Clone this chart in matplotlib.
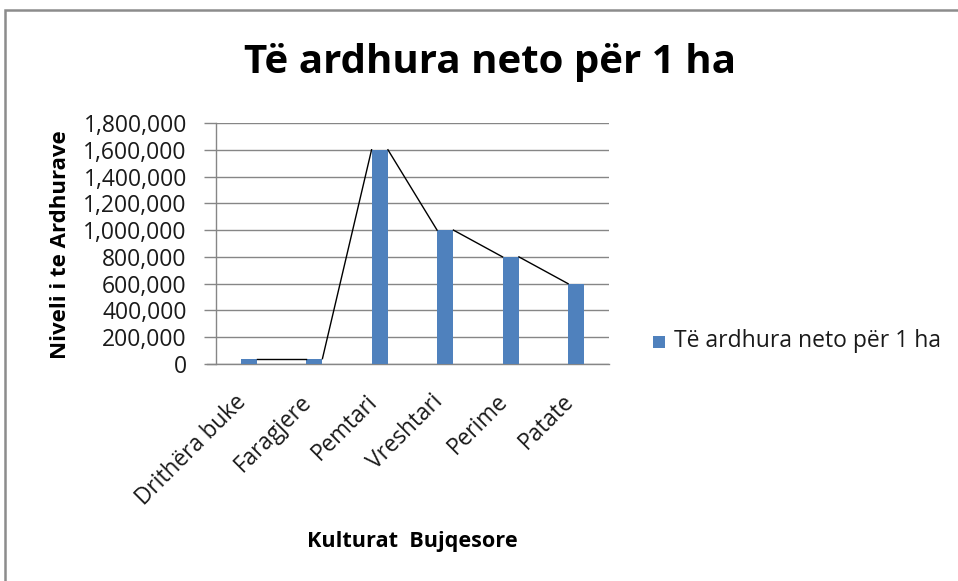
import matplotlib
matplotlib.use("Agg")
import matplotlib.pyplot as plt
from matplotlib.patches import Rectangle
from matplotlib.ticker import FuncFormatter
from matplotlib.transforms import ScaledTranslation, blended_transform_factory

categories = ["Drithëra buke", "Faragjere", "Pemtari", "Vreshtari", "Perime", "Patate"]
values = [40000, 40000, 1600000, 1000000, 800000, 600000]
series_name = "Të ardhura neto për 1 ha"
title = "Të ardhura neto për 1 ha"
y_label = "Niveli i te Ardhurave"
x_label = "Kulturat  Bujqesore"
y_ticks = [0, 200000, 400000, 600000, 800000, 1000000, 1200000, 1400000, 1600000, 1800000]

FONT = "Open Sans"
plt.rcParams["font.family"] = [FONT, "DejaVu Sans"]

W, H = 958, 581
fig = plt.figure(figsize=(W / 100, H / 100), dpi=100)
fig.patch.set_facecolor("white")

# chart border
fig.add_artist(Rectangle((5 / W, -0.1), 1.2, 1 - 10 / H + 0.1, transform=fig.transFigure,
                         fill=False, edgecolor="#8c8c8c", linewidth=1.8))

left, right = 216 / W, 609 / W
bottom, top = 1 - 364 / H, 1 - 123 / H
ax = fig.add_axes([left, bottom, right - left, top - bottom])

bar_w = 0.25
x = list(range(len(categories)))
ax.bar(x, values, width=bar_w, color="#4f81bd", zorder=3)

# series lines connecting bar tops
for i in range(len(values) - 1):
    ax.plot([x[i] + bar_w / 2, x[i + 1] - bar_w / 2], [values[i], values[i + 1]],
            color="black", linewidth=1.0, zorder=4)

ax.set_xlim(-0.5, len(categories) - 0.5)
ax.set_ylim(0, 1800000)
ax.set_yticks(y_ticks)
ax.yaxis.set_major_formatter(FuncFormatter(lambda v, p: f"{int(v):,}"))
ax.set_xticks(x)
ax.set_xticklabels([])
ax.tick_params(axis="x", length=0)
ax.tick_params(axis="y", length=9, color="#868686", width=1.0, labelsize=16.5,
               labelcolor="#1a1a1a", pad=12)

# rotated category labels
lbl_tr = blended_transform_factory(ax.transData, ax.transAxes) + \
    ScaledTranslation(2.5 / 100, -26 / 100, fig.dpi_scale_trans)
for xi, name in zip(x, categories):
    ax.text(xi, 0, name, transform=lbl_tr, rotation=45, ha="right", va="top",
            fontsize=16.3, color="#1a1a1a")

ax.grid(axis="y", color="#868686", linewidth=1.0, zorder=0)
for s in ["top", "right"]:
    ax.spines[s].set_visible(False)
for s in ["left", "bottom"]:
    ax.spines[s].set_color("#868686")
    ax.spines[s].set_linewidth(1.0)
ax.spines["bottom"].set_bounds(-0.5 - 9 / 65.5, len(categories) - 0.5)

fig.text(490 / W, 1 - 62 / H, title, ha="center", va="center", fontsize=29,
         fontweight="bold", color="black")
fig.text(60 / W, 1 - 245 / H, y_label, ha="center", va="center", rotation=90,
         fontsize=16, fontweight="bold", color="black")
fig.text(412 / W, 1 - 542 / H, x_label, ha="center", va="center",
         fontsize=15.6, fontweight="bold", color="black")

# legend
fig.add_artist(Rectangle((653 / W, 1 - 348 / H), 12 / W, 12 / H, transform=fig.transFigure,
                         facecolor="#4f81bd", edgecolor="none"))
fig.text(674 / W, 1 - 341 / H, series_name, ha="left", va="center", fontsize=16.5,
         color="#1a1a1a")

fig.savefig("out.png", dpi=100, facecolor="white")
